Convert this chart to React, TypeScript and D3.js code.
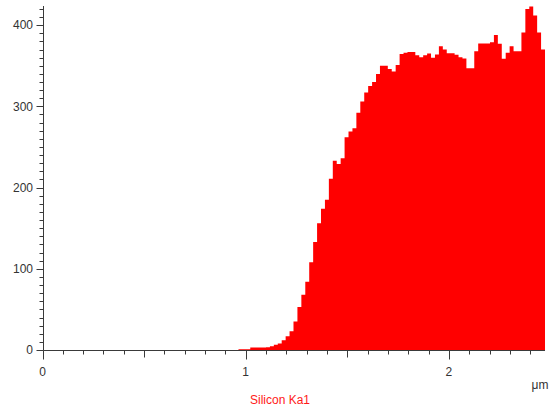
import React from "react";
import * as d3 from "d3";

// Line-scan histogram (counts per bin), bins start at binStart (μm), width binWidth (μm)
const binStart = 0.9645;
const binWidth = 0.01934;
const counts = [
  1, 1, 1, 3, 3, 3, 3, 3.5, 4.5, 6.5,
  8, 12, 17, 23, 35, 53, 68, 84, 108, 133,
  156, 174, 185, 211, 233, 229, 236, 262, 269, 273,
  292, 306, 317, 325, 330, 340, 350, 350, 346, 343,
  351, 364.5, 366, 367, 367, 363, 360.5, 363, 365, 360,
  364, 374, 370, 365.5, 365.5, 363.5, 360.5, 359, 347, 347,
  368, 377.5, 377.5, 377.5, 379, 388, 377, 358.5, 366, 374,
  368, 368, 391, 420, 423, 412, 391, 370,
];
const yTickLabels = [0, 100, 200, 300, 400];
const xTickLabels = [0, 1, 2];
const xUnit = "μm";
const seriesName = "Silicon Ka1";

const W = 557;
const H = 410;

export default function App() {
  const xMax = binStart + counts.length * binWidth;
  const x = d3.scaleLinear().domain([0, xMax]).range([42.5, 545]);
  const y = d3.scaleLinear().domain([0, 423.6]).range([350, 6]);

  const pts: [number, number][] = counts.map((c, i) => [binStart + i * binWidth, c]);
  pts.push([xMax, counts[counts.length - 1]]);

  const area = d3
    .area<[number, number]>()
    .x((d) => x(d[0]))
    .y0(y(0))
    .y1((d) => y(d[1]))
    .curve(d3.curveStepAfter);

  const yMinor = d3.range(0, 421, 10);
  const xMinor = d3.range(0, xMax + 1e-9, 0.1).map((v) => Math.round(v * 10) / 10);

  const axisColor = "#3a3a3a";
  const textColor = "#333";
  const font = "'Liberation Sans', Arial, sans-serif";
  const x0 = Math.round(x(0)) + 0.5;
  const yBase = Math.round(y(0)) + 0.5;

  return (
    <svg
      width={W}
      height={H}
      style={{ position: "absolute", left: 0, top: 0, background: "#fff" }}
      fontFamily={font}
    >
      <path d={area(pts) || ""} fill="#ff0000" />
      {/* y axis */}
      <line x1={x0} x2={x0} y1={6} y2={yBase} stroke={axisColor} strokeWidth={1} />
      {yMinor.map((v) => {
        const yy = Math.round(y(v)) + 0.5;
        const major = v % 100 === 0;
        return (
          <line key={"ym" + v} x1={x0 - (major ? 7 : 4)} x2={x0} y1={yy} y2={yy} stroke={axisColor} />
        );
      })}
      {yTickLabels.map((v) => (
        <text
          key={"yl" + v}
          x={33}
          y={y(v)}
          dy="0.35em"
          textAnchor="end"
          fontSize={12}
          fill={textColor}
        >
          {v}
        </text>
      ))}
      {/* x axis */}
      <line x1={x0} x2={x(xMax)} y1={yBase} y2={yBase} stroke={axisColor} />
      {xMinor.map((v) => {
        const xx = Math.round(x(v)) + 0.5;
        const isInt = Math.abs(v - Math.round(v)) < 1e-6;
        const isHalf = Math.abs(v * 2 - Math.round(v * 2)) < 1e-6;
        const len = isInt ? 9 : isHalf ? 7 : 4;
        return <line key={"xm" + v} x1={xx} x2={xx} y1={yBase} y2={yBase + len} stroke={axisColor} />;
      })}
      {xTickLabels.map((v) => (
        <text key={"xl" + v} x={x(v)} y={376} textAnchor="middle" fontSize={12} fill={textColor}>
          {v}
        </text>
      ))}
      <text x={540} y={389} textAnchor="middle" fontSize={12} fill={textColor}>
        {xUnit}
      </text>
      <text x={280} y={404} textAnchor="middle" fontSize={12} fill="#ff1a1a">
        {seriesName}
      </text>
    </svg>
  );
}
